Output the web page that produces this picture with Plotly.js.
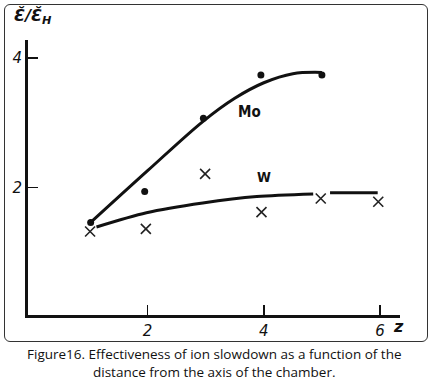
<!DOCTYPE html>
<html>
<head>
<meta charset="utf-8">
<script src="https://cdn.plot.ly/plotly-3.0.1.min.js"></script>
<style>
  html, body { margin:0; padding:0; background:#ffffff; }
  #wrap { position:relative; width:434px; height:388px; }
  #chart { position:absolute; left:0; top:0; width:434px; height:388px; }
  #frame { position:absolute; left:4px; top:4px; width:422px; height:336px;
           border:1.5px solid #333; border-radius:6px; pointer-events:none; }
</style>
</head>
<body>
<div id="wrap">
  <div id="chart"></div>
  <div id="frame"></div>
</div>
<script>
// Measured points (Mo: dots, W: crosses)
var moX = [1.02, 1.95, 2.96, 3.95, 5.0];
var moY = [1.46, 1.94, 3.07, 3.74, 3.74];
var wX = [1.01, 1.97, 2.99, 3.96, 4.98, 5.97];
var wY = [1.32, 1.36, 2.21, 1.62, 1.83, 1.78];
// Hand-drawn fitted curves
var moCurveX = [1.02, 2.0, 2.95, 3.5, 4.0, 4.5, 5.0];
var moCurveY = [1.46, 2.26, 3.02, 3.38, 3.62, 3.76, 3.78];
var wCurveX = [1.12, 1.98, 2.95, 3.88, 4.85, null, 5.14, 5.96];
var wCurveY = [1.39, 1.61, 1.76, 1.86, 1.90, null, 1.92, 1.92];
// Axis ticks
var xTicks = [2, 4, 6];
var xTickText = ['2', '4', '6'];
var yTicks = [2, 4];
var yTickText = ['2', '4'];

var ink = '#111111';

var traces = [
  { x: moCurveX, y: moCurveY, mode: 'lines', line: {color: ink, width: 3, shape: 'spline', smoothing: 1},
    hoverinfo: 'skip', showlegend: false },
  { x: wCurveX, y: wCurveY, mode: 'lines', line: {color: ink, width: 3, shape: 'spline', smoothing: 0.8},
    connectgaps: false, hoverinfo: 'skip', showlegend: false },
  { x: moX, y: moY, mode: 'markers', name: 'Mo',
    marker: {symbol: 'circle', size: 7, color: ink}, showlegend: false },
  { x: wX, y: wY, mode: 'markers', name: 'W',
    marker: {symbol: 'x-thin-open', size: 10, color: '#222', line: {color: '#222', width: 1.6}}, showlegend: false }
];

var handFont = {family: 'DejaVu Sans', size: 15, color: ink, style: 'italic'};

var layout = {
  width: 434, height: 388,
  margin: {l: 28, r: 34, t: 40, b: 72.5},
  paper_bgcolor: '#ffffff',
  plot_bgcolor: 'rgba(0,0,0,0)',
  showlegend: false,
  xaxis: {
    range: [-0.0585, 6.344], showgrid: false, zeroline: false,
    showline: true, linewidth: 3, linecolor: ink,
    ticks: 'inside', ticklen: 10, tickwidth: 1.5, tickcolor: ink,
    tickvals: xTicks, ticktext: xTickText, tickfont: handFont
  },
  yaxis: {
    range: [0.029, 4.281], showgrid: false, zeroline: false,
    showline: true, linewidth: 3, linecolor: ink,
    ticks: 'inside', ticklen: 10, tickwidth: 1.5, tickcolor: ink,
    tickvals: yTicks, ticktext: yTickText, tickfont: handFont
  },
  annotations: [
    { xref: 'x', yref: 'y', x: 3.76, y: 3.17, text: 'Mo', showarrow: false,
      font: {family: 'DejaVu Sans Condensed', size: 15, color: ink, weight: 600} },
    { xref: 'x', yref: 'y', x: 4.0, y: 2.16, text: '<b>W</b>', showarrow: false,
      font: {family: 'DejaVu Sans Condensed', size: 14, color: ink} },
    { xref: 'paper', yref: 'paper', x: -0.042, y: 1.085, xanchor: 'left', yanchor: 'middle',
      text: '<b>Ɛ̆/Ɛ̆<sub>H</sub></b>', showarrow: false,
      font: {family: 'DejaVu Sans', size: 16, color: ink, style: 'italic'} },
    { xref: 'paper', yref: 'paper', x: 0.995, y: -0.04, xanchor: 'center', yanchor: 'middle',
      text: '<b>z</b>', showarrow: false,
      font: {family: 'DejaVu Sans', size: 16, color: ink, style: 'italic'} },
    { xref: 'paper', yref: 'paper', x: 0.5, y: -0.1, xanchor: 'center', yanchor: 'top',
      text: 'Figure16. Effectiveness of ion slowdown as a function of the<br>distance from the axis of the chamber.',
      showarrow: false, align: 'center',
      font: {family: 'Open Sans', size: 13.5, color: '#111'} }
  ]
};

Plotly.newPlot('chart', traces, layout, {displayModeBar: false, staticPlot: true});
</script>
</body>
</html>
